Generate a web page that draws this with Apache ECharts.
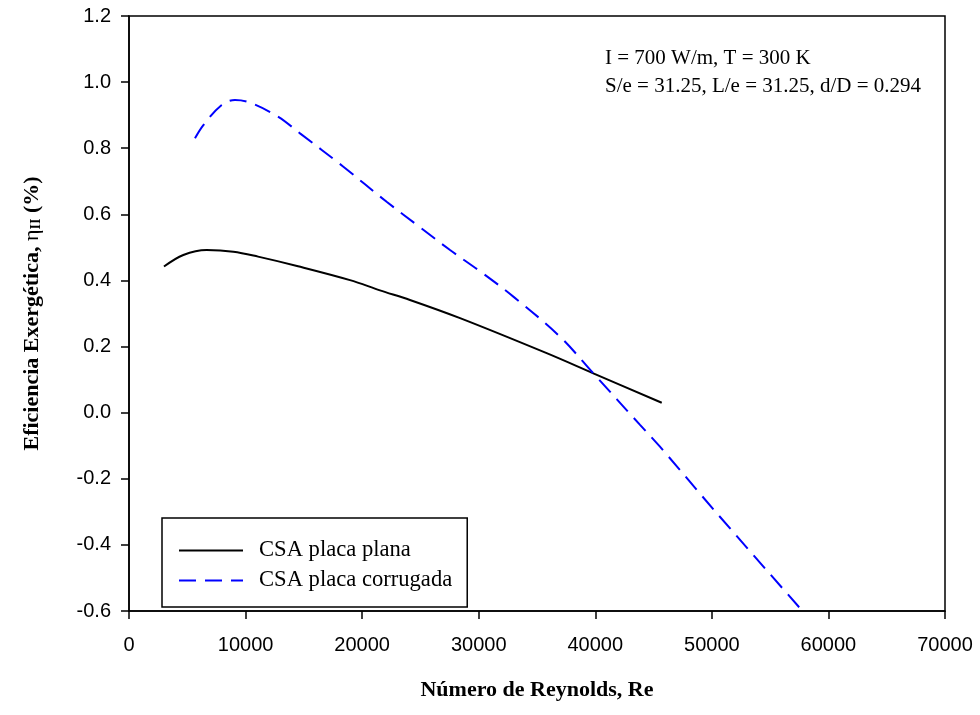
<!DOCTYPE html>
<html>
<head>
<meta charset="utf-8">
<script src="https://cdn.jsdelivr.net/npm/echarts@6/dist/echarts.min.js"></script>
<style>html,body{margin:0;padding:0;background:#fff;}#c{width:980px;height:715px;}</style>
</head>
<body>
<div id="c"></div>
<script>
const planaRe = [3000, 4660, 6660, 8950, 11070, 14500, 18960, 21530, 24100, 28400, 35830, 39830, 45700];
const planaEta = [0.442, 0.477, 0.492, 0.487, 0.472, 0.443, 0.401, 0.370, 0.341, 0.286, 0.180, 0.119, 0.030];
const corrRe = [5660, 6380, 7950, 9090, 10380, 12810, 14670, 18390, 22100, 25000, 27540, 30100, 32970, 36970, 39830, 43840, 45550, 50420, 57700];
const corrEta = [0.830, 0.870, 0.931, 0.946, 0.938, 0.895, 0.845, 0.744, 0.638, 0.560, 0.492, 0.428, 0.351, 0.230, 0.119, -0.037, -0.103, -0.304, -0.597];
const seriesNames = ['CSA placa plana', 'CSA placa corrugada'];
const annotLines = ['I = 700 W/m, T = 300 K', 'S/e = 31.25, L/e = 31.25, d/D = 0.294'];

const zip = (a, b) => a.map((v, i) => [v, b[i]]);
const chart = echarts.init(document.getElementById('c'));
const serif = 'Liberation Serif';
const sans = 'Liberation Sans';
chart.setOption({
  animation: false,
  backgroundColor: '#fff',
  grid: { left: 129, right: 35, top: 16, bottom: 104, show: true, borderColor: '#000', borderWidth: 1.5, backgroundColor: 'transparent' },
  xAxis: {
    type: 'value', min: 0, max: 70000, interval: 10000,
    name: 'Número de Reynolds, Re', nameLocation: 'middle', nameGap: 68,
    nameTextStyle: { fontFamily: serif, fontWeight: 'bold', fontSize: 22, color: '#000' },
    axisLine: { show: true, onZero: false, lineStyle: { color: '#000', width: 1.5 } },
    axisTick: { show: true, inside: false, length: 8, lineStyle: { color: '#000', width: 1.5 } },
    axisLabel: { fontFamily: sans, fontSize: 20, color: '#000', margin: 24, formatter: v => String(v) },
    splitLine: { show: false }
  },
  yAxis: {
    type: 'value', min: -0.6, max: 1.2, interval: 0.2,
    name: '{b|Eficiencia Exergética, }{e|η}{s|II}{b| (%)}', nameLocation: 'middle', nameGap: 86, nameRotate: 90,
    nameTextStyle: {
      color: '#000',
      rich: {
        b: { fontFamily: serif, fontWeight: 'bold', fontSize: 22, color: '#000' },
        e: { fontFamily: serif, fontSize: 22, color: '#000' },
        s: { fontFamily: serif, fontWeight: 'bold', fontSize: 14, color: '#000', verticalAlign: 'bottom', padding: [8, 0, 0, 0] }
      }
    },
    axisLine: { show: true, onZero: false, lineStyle: { color: '#000', width: 1.5 } },
    axisTick: { show: true, inside: false, length: 8, lineStyle: { color: '#000', width: 1.5 } },
    axisLabel: { fontFamily: sans, fontSize: 20, color: '#000', margin: 18, formatter: v => v.toFixed(1) },
    splitLine: { show: false }
  },
  legend: {
    orient: 'vertical', left: 162, top: 518,
    padding: [21, 15, 15, 16],
    itemWidth: 64, itemHeight: 14, itemGap: 7,
    borderColor: '#000', borderWidth: 1.5,
    itemStyle: { opacity: 0 },
    textStyle: { fontFamily: serif, fontSize: 22.6, lineHeight: 22, color: '#000', padding: [0, 0, 0, 11] },
    data: seriesNames
  },
  graphic: [{
    type: 'text', left: 605, top: 44,
    style: { text: annotLines.join('\n'), font: '21px "Liberation Serif"', fill: '#000', lineHeight: 28 }
  }],
  series: [
    { name: seriesNames[0], type: 'line', smooth: 0.35, symbol: 'none', data: zip(planaRe, planaEta),
      lineStyle: { color: '#000', width: 2 }, itemStyle: { color: '#000' } },
    { name: seriesNames[1], type: 'line', smooth: 0.35, symbol: 'none', data: zip(corrRe, corrEta),
      lineStyle: { color: '#0000ff', width: 2, type: [17, 9] }, itemStyle: { color: '#0000ff' } }
  ]
});
</script>
</body>
</html>
